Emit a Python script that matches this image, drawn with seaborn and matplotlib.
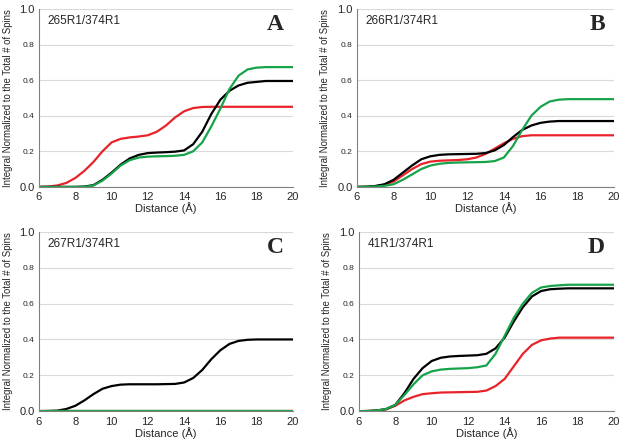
import numpy as np
import pandas as pd
import matplotlib
matplotlib.use("Agg")
import matplotlib.pyplot as plt
import seaborn as sns

distance = [6.0, 6.5, 7.0, 7.5, 8.0, 8.5, 9.0, 9.5, 10.0, 10.5, 11.0, 11.5, 12.0, 12.5,
            13.0, 13.5, 14.0, 14.5, 15.0, 15.5, 16.0, 16.5, 17.0, 17.5, 18.0, 18.5, 19.0, 19.5, 20.0]

# Panel A: 265R1/374R1
a_red = [0, 0.002, 0.008, 0.022, 0.05, 0.09, 0.14, 0.2, 0.25, 0.27, 0.278, 0.283, 0.29, 0.31,
         0.345, 0.39, 0.425, 0.443, 0.449, 0.45, 0.45, 0.45, 0.45, 0.45, 0.45, 0.45, 0.45, 0.45, 0.45]
a_black = [0, 0, 0, 0, 0, 0.002, 0.01, 0.04, 0.08, 0.125, 0.16, 0.18, 0.19, 0.193,
           0.195, 0.198, 0.205, 0.24, 0.31, 0.41, 0.49, 0.54, 0.57, 0.585, 0.59, 0.595, 0.595, 0.595, 0.595]
a_green = [0, 0, 0, 0, 0, 0, 0.008, 0.035, 0.075, 0.12, 0.15, 0.165, 0.17, 0.172,
           0.173, 0.175, 0.18, 0.2, 0.25, 0.34, 0.44, 0.55, 0.625, 0.66, 0.67, 0.673, 0.673, 0.673, 0.673]

# Panel B: 266R1/374R1
b_red = [0, 0.001, 0.004, 0.012, 0.03, 0.065, 0.1, 0.128, 0.142, 0.147, 0.149, 0.151, 0.155, 0.165,
         0.185, 0.215, 0.245, 0.27, 0.285, 0.29, 0.29, 0.29, 0.29, 0.29, 0.29, 0.29, 0.29, 0.29, 0.29]
b_black = [0, 0.001, 0.005, 0.015, 0.04, 0.08, 0.12, 0.155, 0.172, 0.18, 0.183, 0.184, 0.185, 0.186,
           0.19, 0.205, 0.235, 0.28, 0.32, 0.345, 0.36, 0.367, 0.37, 0.37, 0.37, 0.37, 0.37, 0.37, 0.37]
b_green = [0, 0.001, 0.002, 0.006, 0.015, 0.04, 0.07, 0.1, 0.12, 0.13, 0.135, 0.137, 0.138, 0.139,
           0.14, 0.145, 0.165, 0.23, 0.32, 0.4, 0.45, 0.48, 0.49, 0.493, 0.493, 0.493, 0.493, 0.493, 0.493]

# Panel C: 267R1/374R1
c_red = [0] * 29
c_black = [0, 0.001, 0.003, 0.012, 0.03, 0.06, 0.095, 0.125, 0.14, 0.148, 0.15, 0.15, 0.15, 0.15,
           0.151, 0.152, 0.16, 0.185, 0.23, 0.29, 0.34, 0.375, 0.392, 0.398, 0.4, 0.4, 0.4, 0.4, 0.4]
c_green = [0] * 29

# Panel D: 41R1/374R1
d_red = [0, 0.001, 0.003, 0.01, 0.03, 0.06, 0.08, 0.095, 0.1, 0.104, 0.105, 0.106, 0.107, 0.108,
         0.115, 0.14, 0.18, 0.25, 0.32, 0.37, 0.395, 0.405, 0.41, 0.41, 0.41, 0.41, 0.41, 0.41, 0.41]
d_black = [0, 0.001, 0.004, 0.012, 0.035, 0.1, 0.18, 0.24, 0.28, 0.298, 0.305, 0.308, 0.31, 0.312,
           0.32, 0.35, 0.41, 0.5, 0.58, 0.64, 0.67, 0.68, 0.683, 0.685, 0.685, 0.685, 0.685, 0.685, 0.685]
d_green = [0, 0.001, 0.004, 0.012, 0.035, 0.09, 0.15, 0.2, 0.222, 0.232, 0.236, 0.238, 0.24, 0.245,
           0.255, 0.32, 0.42, 0.52, 0.6, 0.66, 0.69, 0.698, 0.702, 0.705, 0.705, 0.705, 0.705, 0.705, 0.705]

panel_labels = ["265R1/374R1", "266R1/374R1", "267R1/374R1", "41R1/374R1"]
panel_letters = ["A", "B", "C", "D"]
x_ticks = [6, 8, 10, 12, 14, 16, 18, 20]
y_ticks = [0.0, 0.2, 0.4, 0.6, 0.8, 1.0]

sns.set_theme(style="white")
plt.rcParams['font.family'] = ['Liberation Sans', 'DejaVu Sans']

RED = "#e8232a"
GREEN = "#17a34a"
BLACK = "#000000"

fig = plt.figure(figsize=(6.24, 4.45), dpi=100)
positions = [
    [0.0625, 0.580, 0.407, 0.400],
    [0.572, 0.580, 0.412, 0.400],
    [0.0625, 0.076, 0.407, 0.403],
    [0.575, 0.076, 0.409, 0.403],
]
series = [
    (a_red, a_black, a_green),
    (b_red, b_black, b_green),
    (c_red, c_black, c_green),
    (d_red, d_black, d_green),
]

for i, pos in enumerate(positions):
    ax = fig.add_axes(pos)
    red, black, green = series[i]
    df = pd.DataFrame({"x": distance, "red": red, "black": black, "green": green})
    if i == 2:
        order = [("black", BLACK), ("red", RED), ("green", GREEN)]
    else:
        order = [("red", RED), ("black", BLACK), ("green", GREEN)]
    for name, col in order:
        sns.lineplot(data=df, x="x", y=name, color=col, lw=1.6, ax=ax, legend=False)
    ax.set_xlim(6, 20)
    ax.set_ylim(0, 1.0)
    ax.set_xticks(x_ticks)
    ax.set_yticks(y_ticks)
    ax.set_yticklabels([f"{v:.1f}" for v in y_ticks])
    for lab, v in zip(ax.get_yticklabels(), y_ticks):
        lab.set_fontsize(8 if v in (0.0, 1.0) else 6)
    ax.tick_params(axis='x', labelsize=8, length=0, pad=4)
    ax.tick_params(axis='y', length=0, pad=3)
    ax.grid(axis='y', color="#d9d9d9", lw=0.8)
    ax.grid(axis='x', visible=False)
    for s in ["top", "right"]:
        ax.spines[s].set_visible(False)
    for s in ["left", "bottom"]:
        ax.spines[s].set_color("#808080")
        ax.spines[s].set_linewidth(0.8)
    ax.set_xlabel("Distance (Å)", fontsize=8, labelpad=0)
    ax.set_ylabel("Integral Normalized to the Total # of Spins", fontsize=6.9, labelpad=5)
    ax.text(0.035, 0.93, panel_labels[i], transform=ax.transAxes, fontsize=8.5,
            ha="left", va="center")
    ax.text(0.965, 0.91, panel_letters[i], transform=ax.transAxes, fontsize=17,
            fontweight="bold", family=["Liberation Serif", "DejaVu Serif"],
            ha="right", va="center")

fig.savefig("out.png", dpi=100, facecolor="white")
